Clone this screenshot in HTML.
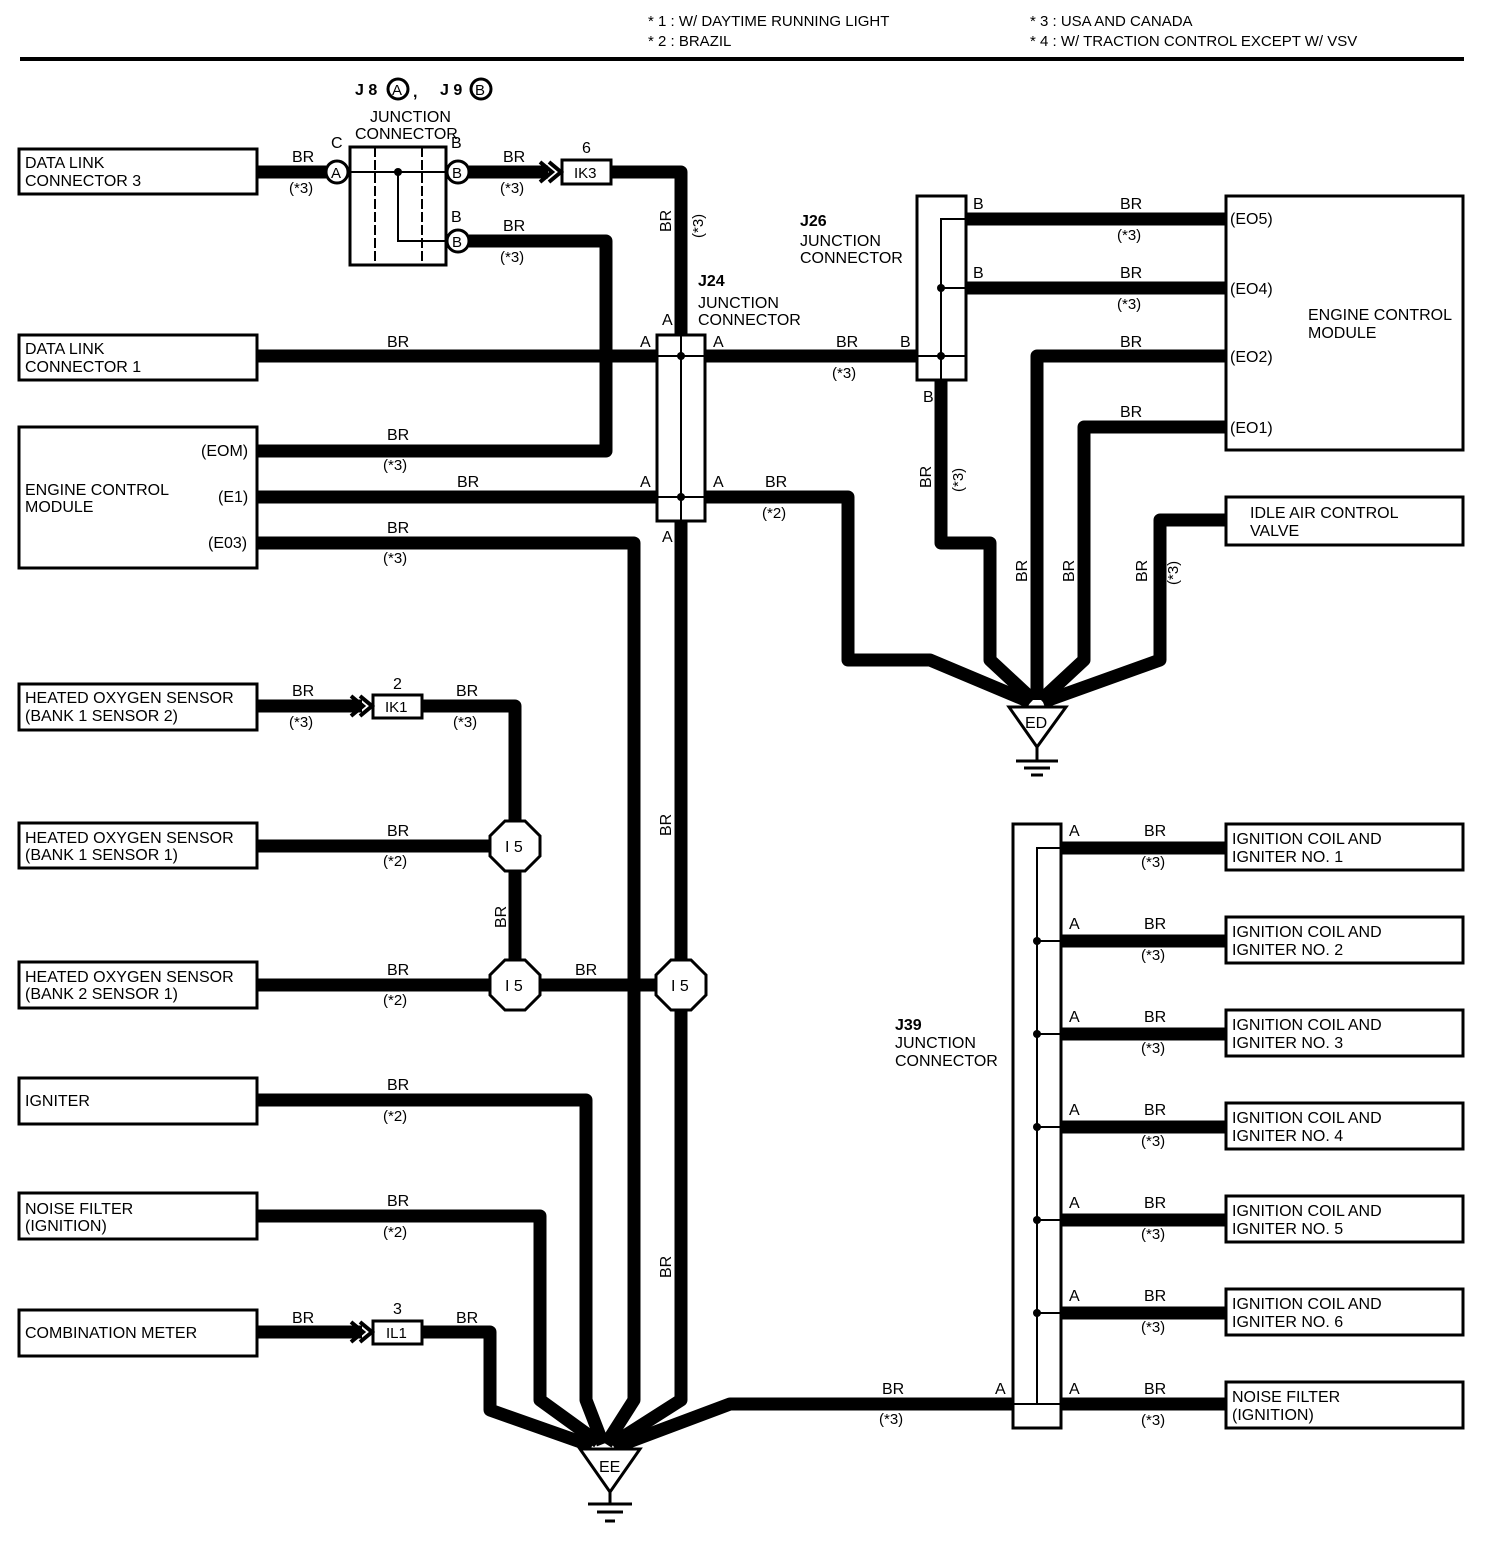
<!DOCTYPE html>
<html><head><meta charset="utf-8"><style>
html,body{margin:0;padding:0;background:#fff;}
svg{display:block;}
text{font-family:"Liberation Sans",Arial,sans-serif;font-size:16px;fill:#000;}
.s{font-size:15px;}
</style></head><body>
<svg width="1504" height="1556" viewBox="0 0 1504 1556" xmlns="http://www.w3.org/2000/svg">
<!-- header -->
<text x="648" y="26" class="s">* 1 : W/ DAYTIME RUNNING LIGHT</text>
<text x="648" y="46" class="s">* 2 : BRAZIL</text>
<text x="1030" y="26" class="s">* 3 : USA AND CANADA</text>
<text x="1030" y="46" class="s">* 4 : W/ TRACTION CONTROL EXCEPT W/ VSV</text>
<rect x="20" y="57" width="1444" height="4" fill="#000"/>

<!-- thick wires -->
<g fill="none" stroke="#000" stroke-width="13" stroke-linejoin="round">
<path d="M257 172H326"/>
<path d="M469 172H548"/>
<path d="M611 172H681V336"/>
<path d="M469 241H606V451H257"/>
<path d="M257 356H657"/>
<path d="M705 356H917"/>
<path d="M257 497H657"/>
<path d="M705 497H848V660H930L1030 702"/>
<path d="M257 543H634V1400L606 1444"/>
<path d="M681 521V960"/>
<path d="M681 1010V1400L612 1444"/>
<path d="M966 219H1226"/>
<path d="M966 288H1226"/>
<path d="M941 380V543H990V660L1033 700"/>
<path d="M1226 356H1037V700"/>
<path d="M1226 427H1084V660L1041 700"/>
<path d="M1226 520H1160V660L1043 702"/>
<path d="M257 706H362"/>
<path d="M422 706H515V821"/>
<path d="M257 846H490"/>
<path d="M515 871V960"/>
<path d="M257 985H490"/>
<path d="M540 985H656"/>
<path d="M257 1100H586V1400L603 1444"/>
<path d="M257 1216H540V1400L598 1442"/>
<path d="M257 1332H362"/>
<path d="M422 1332H490V1410L592 1446"/>
<path d="M1013 1404H730L618 1446"/>
<path d="M1061 848H1226"/>
<path d="M1061 941H1226"/>
<path d="M1061 1034H1226"/>
<path d="M1061 1127H1226"/>
<path d="M1061 1220H1226"/>
<path d="M1061 1313H1226"/>
<path d="M1061 1404H1226"/>
</g>

<!-- boxes -->
<g fill="#fff" stroke="#000" stroke-width="3">
<rect x="19" y="149" width="238" height="45"/>
<rect x="19" y="335" width="238" height="45"/>
<rect x="19" y="427" width="238" height="141"/>
<rect x="19" y="684" width="238" height="46"/>
<rect x="19" y="823" width="238" height="45"/>
<rect x="19" y="962" width="238" height="46"/>
<rect x="19" y="1078" width="238" height="46"/>
<rect x="19" y="1193" width="238" height="46"/>
<rect x="19" y="1310" width="238" height="46"/>
<rect x="1226" y="196" width="237" height="254"/>
<rect x="1226" y="497" width="237" height="48"/>
<rect x="1226" y="824" width="237" height="46"/>
<rect x="1226" y="917" width="237" height="46"/>
<rect x="1226" y="1010" width="237" height="46"/>
<rect x="1226" y="1103" width="237" height="46"/>
<rect x="1226" y="1196" width="237" height="46"/>
<rect x="1226" y="1289" width="237" height="46"/>
<rect x="1226" y="1382" width="237" height="46"/>
<rect x="350" y="147" width="96" height="118"/>
<rect x="657" y="335" width="48" height="186"/>
<rect x="917" y="196" width="49" height="184"/>
<rect x="1013" y="824" width="48" height="604"/>
<rect x="562" y="160" width="49" height="24"/>
<rect x="373" y="695" width="49" height="23"/>
<rect x="373" y="1321" width="49" height="23"/>
</g>

<!-- junction internals -->
<g fill="none" stroke="#000" stroke-width="2">
<path d="M375 147V265M422 147V265" stroke-dasharray="10 3"/>
<path d="M350 172H446M398 172V241H446"/>
<path d="M681 335V521M657 356H705M657 497H705"/>
<path d="M966 219H941V380M941 288H966M917 356H966"/>
<path d="M1061 848H1037V1404M1037 941H1061M1037 1034H1061M1037 1127H1061M1037 1220H1061M1037 1313H1061M1013 1404H1061"/>
</g>
<g fill="#000">
<circle cx="398" cy="172" r="4"/>
<circle cx="681" cy="356" r="4"/><circle cx="681" cy="497" r="4"/>
<circle cx="941" cy="288" r="4"/><circle cx="941" cy="356" r="4"/>
<circle cx="1037" cy="941" r="4"/><circle cx="1037" cy="1034" r="4"/><circle cx="1037" cy="1127" r="4"/>
<circle cx="1037" cy="1220" r="4"/><circle cx="1037" cy="1313" r="4"/>
</g>

<!-- connector circles -->
<g fill="#fff" stroke="#000" stroke-width="3">
<circle cx="337" cy="172" r="11"/>
<circle cx="458" cy="172" r="11"/>
<circle cx="458" cy="241" r="11"/>
<circle cx="398" cy="89" r="10"/>
<circle cx="481" cy="89" r="10"/>
</g>
<text x="331" y="178" style="font-size:15px">A</text>
<text x="452" y="178" style="font-size:15px">B</text>
<text x="452" y="247" style="font-size:15px">B</text>
<text x="392" y="95" style="font-size:15px">A</text>
<text x="475" y="95" style="font-size:15px">B</text>
<text x="355" y="95" style="font-weight:bold">J 8</text>
<text x="413" y="97" style="font-weight:bold">,</text>
<text x="440" y="95" style="font-weight:bold">J 9</text>

<!-- chevrons -->
<g fill="none" stroke="#000" stroke-width="4">
<path d="M540 162L552 172L540 182M549 162L561 172L549 182"/>
<path d="M351 696L363 706L351 716M360 696L372 706L360 716"/>
<path d="M351 1322L363 1332L351 1342M360 1322L372 1332L360 1342"/>
</g>

<!-- octagons I5 -->
<g fill="#fff" stroke="#000" stroke-width="3">
<polygon points="505,821 525,821 540,836 540,856 525,871 505,871 490,856 490,836"/>
<polygon points="505,960 525,960 540,975 540,995 525,1010 505,1010 490,995 490,975"/>
<polygon points="671,960 691,960 706,975 706,995 691,1010 671,1010 656,995 656,975"/>
</g>
<text x="505" y="852">I 5</text>
<text x="505" y="991">I 5</text>
<text x="671" y="991">I 5</text>

<!-- grounds -->
<g fill="#fff" stroke="#000" stroke-width="3">
<polygon points="1009,707 1066,707 1037,747"/>
<polygon points="580,1449 640,1449 610,1492"/>
</g>
<g stroke="#000" stroke-width="3">
<path d="M1037 747V760M1016 761H1058M1024 768H1050M1031 775H1043"/>
<path d="M610 1492V1503M588 1504H632M597 1512H623M605 1521H615"/>
</g>
<text x="1025" y="728">ED</text>
<text x="599" y="1472">EE</text>

<!-- box labels -->
<text x="25" y="168">DATA LINK</text><text x="25" y="186">CONNECTOR 3</text>
<text x="25" y="354">DATA LINK</text><text x="25" y="372">CONNECTOR 1</text>
<text x="25" y="495">ENGINE CONTROL</text><text x="25" y="512">MODULE</text>
<text x="201" y="456">(EOM)</text>
<text x="218" y="502">(E1)</text>
<text x="208" y="548">(E03)</text>
<text x="25" y="703">HEATED OXYGEN SENSOR</text><text x="25" y="721">(BANK 1 SENSOR 2)</text>
<text x="25" y="843">HEATED OXYGEN SENSOR</text><text x="25" y="860">(BANK 1 SENSOR 1)</text>
<text x="25" y="982">HEATED OXYGEN SENSOR</text><text x="25" y="999">(BANK 2 SENSOR 1)</text>
<text x="25" y="1106">IGNITER</text>
<text x="25" y="1214">NOISE FILTER</text><text x="25" y="1231">(IGNITION)</text>
<text x="25" y="1338">COMBINATION METER</text>
<text x="1308" y="320">ENGINE CONTROL</text><text x="1308" y="338">MODULE</text>
<text x="1230" y="224">(EO5)</text>
<text x="1230" y="294">(EO4)</text>
<text x="1230" y="362">(EO2)</text>
<text x="1230" y="433">(EO1)</text>
<text x="1250" y="518">IDLE AIR CONTROL</text><text x="1250" y="536">VALVE</text>
<text x="1232" y="844">IGNITION COIL AND</text><text x="1232" y="862">IGNITER NO. 1</text>
<text x="1232" y="937">IGNITION COIL AND</text><text x="1232" y="955">IGNITER NO. 2</text>
<text x="1232" y="1030">IGNITION COIL AND</text><text x="1232" y="1048">IGNITER NO. 3</text>
<text x="1232" y="1123">IGNITION COIL AND</text><text x="1232" y="1141">IGNITER NO. 4</text>
<text x="1232" y="1216">IGNITION COIL AND</text><text x="1232" y="1234">IGNITER NO. 5</text>
<text x="1232" y="1309">IGNITION COIL AND</text><text x="1232" y="1327">IGNITER NO. 6</text>
<text x="1232" y="1402">NOISE FILTER</text><text x="1232" y="1420">(IGNITION)</text>

<!-- junction labels -->
<text x="370" y="122">JUNCTION</text><text x="355" y="139">CONNECTOR</text>
<text x="331" y="148">C</text><text x="451" y="148">B</text><text x="451" y="222">B</text>
<text x="582" y="153">6</text><text x="574" y="178" class="s">IK3</text>
<text x="393" y="689">2</text><text x="385" y="712" class="s">IK1</text>
<text x="393" y="1314">3</text><text x="386" y="1338" class="s">IL1</text>
<text x="698" y="286" style="font-weight:bold">J24</text>
<text x="698" y="308">JUNCTION</text><text x="698" y="325">CONNECTOR</text>
<text x="800" y="226" style="font-weight:bold">J26</text>
<text x="800" y="246">JUNCTION</text><text x="800" y="263">CONNECTOR</text>
<text x="895" y="1030" style="font-weight:bold">J39</text>
<text x="895" y="1048">JUNCTION</text><text x="895" y="1066">CONNECTOR</text>
<text x="662" y="325">A</text><text x="640" y="347">A</text><text x="713" y="347">A</text>
<text x="640" y="487">A</text><text x="713" y="487">A</text><text x="662" y="542">A</text>
<text x="900" y="347">B</text><text x="973" y="209">B</text><text x="973" y="278">B</text><text x="923" y="402">B</text>
<text x="995" y="1394">A</text>
<text x="1069" y="836">A</text><text x="1069" y="929">A</text><text x="1069" y="1022">A</text>
<text x="1069" y="1115">A</text><text x="1069" y="1208">A</text><text x="1069" y="1301">A</text><text x="1069" y="1394">A</text>

<!-- wire labels -->
<g>
<text x="292" y="162">BR</text><text x="289" y="193" class="s">(*3)</text>
<text x="503" y="162">BR</text><text x="500" y="193" class="s">(*3)</text>
<text x="503" y="231">BR</text><text x="500" y="262" class="s">(*3)</text>
<text x="387" y="347">BR</text>
<text x="387" y="440">BR</text><text x="383" y="470" class="s">(*3)</text>
<text x="457" y="487">BR</text>
<text x="387" y="533">BR</text><text x="383" y="563" class="s">(*3)</text>
<text x="765" y="487">BR</text><text x="762" y="518" class="s">(*2)</text>
<text x="836" y="347">BR</text><text x="832" y="378" class="s">(*3)</text>
<text x="1120" y="209">BR</text><text x="1117" y="240" class="s">(*3)</text>
<text x="1120" y="278">BR</text><text x="1117" y="309" class="s">(*3)</text>
<text x="1120" y="347">BR</text>
<text x="1120" y="417">BR</text>
<text x="292" y="696">BR</text><text x="289" y="727" class="s">(*3)</text>
<text x="456" y="696">BR</text><text x="453" y="727" class="s">(*3)</text>
<text x="387" y="836">BR</text><text x="383" y="866" class="s">(*2)</text>
<text x="387" y="975">BR</text><text x="383" y="1005" class="s">(*2)</text>
<text x="575" y="975">BR</text>
<text x="387" y="1090">BR</text><text x="383" y="1121" class="s">(*2)</text>
<text x="387" y="1206">BR</text><text x="383" y="1237" class="s">(*2)</text>
<text x="292" y="1323">BR</text>
<text x="456" y="1323">BR</text>
<text x="882" y="1394">BR</text><text x="879" y="1424" class="s">(*3)</text>
<text x="1144" y="836">BR</text><text x="1141" y="867" class="s">(*3)</text>
<text x="1144" y="929">BR</text><text x="1141" y="960" class="s">(*3)</text>
<text x="1144" y="1022">BR</text><text x="1141" y="1053" class="s">(*3)</text>
<text x="1144" y="1115">BR</text><text x="1141" y="1146" class="s">(*3)</text>
<text x="1144" y="1208">BR</text><text x="1141" y="1239" class="s">(*3)</text>
<text x="1144" y="1301">BR</text><text x="1141" y="1332" class="s">(*3)</text>
<text x="1144" y="1394">BR</text><text x="1141" y="1425" class="s">(*3)</text>
</g>
<!-- rotated labels -->
<g>
<text transform="translate(671,232) rotate(-90)">BR</text>
<text transform="translate(703,238) rotate(-90)" class="s">(*3)</text>
<text transform="translate(671,836) rotate(-90)">BR</text>
<text transform="translate(671,1278) rotate(-90)">BR</text>
<text transform="translate(506,928) rotate(-90)">BR</text>
<text transform="translate(931,488) rotate(-90)">BR</text>
<text transform="translate(963,492) rotate(-90)" class="s">(*3)</text>
<text transform="translate(1027,582) rotate(-90)">BR</text>
<text transform="translate(1074,582) rotate(-90)">BR</text>
<text transform="translate(1147,582) rotate(-90)">BR</text>
<text transform="translate(1178,585) rotate(-90)" class="s">(*3)</text>
</g>
</svg>
</body></html>
